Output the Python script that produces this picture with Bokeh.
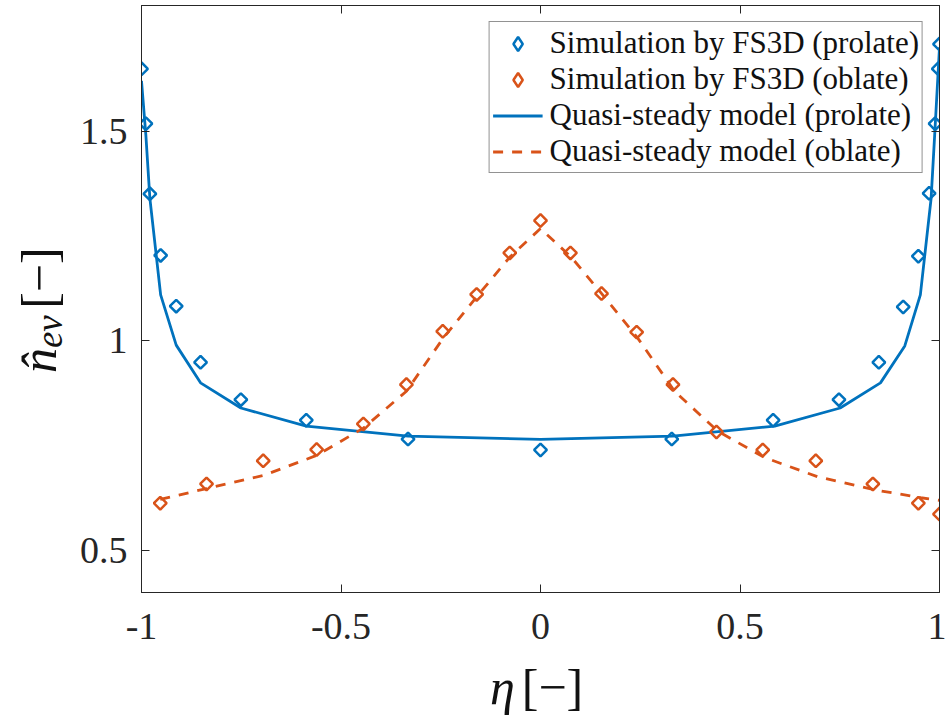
import math
from bokeh.plotting import figure
from bokeh.layouts import column, row
from bokeh.models import Range1d, LinearAxis, FixedTicker, Legend, LegendItem, ColumnDataSource
from bokeh.core.properties import value
from bokeh.embed import file_html
from bokeh.resources import INLINE

# ---------------- data ----------------
x_prolate_sim = [-1.0, -0.989, -0.979, -0.952, -0.913, -0.852, -0.751, -0.587, -0.332, 0.0,
                 0.329, 0.583, 0.748, 0.848, 0.909, 0.947, 0.974, 0.989, 0.997, 1.0]
y_prolate_sim = [1.649, 1.518, 1.351, 1.204, 1.083, 0.949, 0.860, 0.811, 0.766, 0.740,
                 0.766, 0.811, 0.860, 0.949, 1.081, 1.202, 1.352, 1.518, 1.649, 1.708]

x_oblate_sim = [-0.953, -0.837, -0.695, -0.561, -0.444, -0.336, -0.245, -0.160, -0.077, 0.0,
                0.075, 0.153, 0.241, 0.332, 0.441, 0.557, 0.690, 0.833, 0.947, 1.0]
y_oblate_sim = [0.613, 0.659, 0.714, 0.741, 0.802, 0.896, 1.023, 1.111, 1.210, 1.287,
                1.210, 1.113, 1.021, 0.896, 0.783, 0.740, 0.714, 0.659, 0.613, 0.587]

x_prolate_model = [-1.0, -0.989, -0.979, -0.952, -0.913, -0.852, -0.751, -0.587, -0.332, 0.0,
                   0.332, 0.587, 0.751, 0.852, 0.913, 0.952, 0.979, 0.989, 1.0]
y_prolate_model = [1.62, 1.49, 1.34, 1.11, 0.99, 0.90, 0.84, 0.797, 0.773, 0.765,
                   0.773, 0.797, 0.84, 0.90, 0.988, 1.11, 1.34, 1.51, 1.70]

x_oblate_model = [-0.953, -0.837, -0.695, -0.561, -0.444, -0.336, -0.245, -0.160, -0.077, 0.0,
                  0.077, 0.160, 0.245, 0.336, 0.444, 0.561, 0.695, 0.837, 0.953, 1.0]
y_oblate_model = [0.622, 0.648, 0.679, 0.727, 0.792, 0.880, 1.005, 1.105, 1.200, 1.268,
                  1.200, 1.105, 1.005, 0.880, 0.785, 0.722, 0.676, 0.645, 0.626, 0.620]

x_ticks = [-1, -0.5, 0, 0.5, 1]
x_tick_labels = ["-1", "-0.5", "0", "0.5", "1"]
y_ticks = [0.5, 1, 1.5]
y_tick_labels = ["0.5", "1", "1.5"]

legend_labels = ["Simulation by FS3D (prolate)", "Simulation by FS3D (oblate)",
                 "Quasi-steady model (prolate)", "Quasi-steady model (oblate)"]

BLUE = "#0072BD"
ORANGE = "#D95319"
AX = "#262626"
FONT = "Liberation Serif"

W, H = 946, 720
YLAB_W = 70          # strip on the left holding the y-axis title
XLAB_H = 62          # strip at the bottom holding the x-axis title
MAIN_W = W - YLAB_W
MAIN_H = H - XLAB_H

# ---------------- main figure ----------------
p = figure(width=MAIN_W, height=MAIN_H, output_backend="svg", toolbar_location=None,
           x_range=Range1d(-1, 1), y_range=Range1d(0.4, 1.8),
           min_border_left=141 - YLAB_W, min_border_right=7, min_border_top=5,
           min_border_bottom=MAIN_H - 592)
p.grid.visible = False
p.outline_line_color = AX
p.outline_line_width = 1
p.background_fill_color = "white"
p.border_fill_color = "white"


def style_axis(ax, ticks, labels, show_labels=True):
    ax.ticker = FixedTicker(ticks=ticks)
    ax.major_tick_in = 8
    ax.major_tick_out = 0
    ax.minor_tick_line_color = None
    ax.axis_line_color = AX
    ax.axis_line_width = 1
    ax.major_tick_line_color = AX
    ax.major_tick_line_width = 1
    ax.major_label_text_font = FONT
    ax.major_label_text_color = AX
    if show_labels:
        ax.major_label_overrides = {t: l for t, l in zip(ticks, labels)}
        ax.major_label_text_font_size = "38px"
    else:
        ax.major_label_overrides = {t: "" for t in ticks}
        ax.major_label_text_font_size = "0px"
        ax.major_label_standoff = 0


style_axis(p.xaxis[0], x_ticks, x_tick_labels)
p.xaxis[0].major_label_standoff = 21
style_axis(p.yaxis[0], y_ticks, y_tick_labels)
p.yaxis[0].major_label_standoff = 14

top_ax = LinearAxis()
style_axis(top_ax, x_ticks, x_tick_labels, show_labels=False)
p.add_layout(top_ax, "above")
right_ax = LinearAxis()
style_axis(right_ax, y_ticks, y_tick_labels, show_labels=False)
p.add_layout(right_ax, "right")

# ---------------- data glyphs ----------------
src_ps = ColumnDataSource(dict(x=x_prolate_sim, y=y_prolate_sim))
src_os = ColumnDataSource(dict(x=x_oblate_sim, y=y_oblate_sim))
src_pm = ColumnDataSource(dict(x=x_prolate_model, y=y_prolate_model))
src_om = ColumnDataSource(dict(x=x_oblate_model, y=y_oblate_model))

r_pm = p.line("x", "y", source=src_pm, line_color=BLUE, line_width=2.8)
r_om = p.line("x", "y", source=src_om, line_color=ORANGE, line_width=2.8, line_dash="10 9")
p.scatter("x", "y", source=src_ps, marker="square", angle=math.pi / 4, size=9,
          fill_color=None, line_color=BLUE, line_width=2.5)
p.scatter("x", "y", source=src_os, marker="square", angle=math.pi / 4, size=9,
          fill_color=None, line_color=ORANGE, line_width=2.5)

# legend-only diamond renderers (zero size in the plot, drawn only in the legend)
r_ps_leg = p.scatter("x", "y", source=src_ps, marker="diamond", size=0,
                     fill_color=None, line_color=BLUE, line_width=2.5)
r_os_leg = p.scatter("x", "y", source=src_os, marker="diamond", size=0,
                     fill_color=None, line_color=ORANGE, line_width=2.5)

legend = Legend(items=[
    LegendItem(label=legend_labels[0], renderers=[r_ps_leg]),
    LegendItem(label=legend_labels[1], renderers=[r_os_leg]),
    LegendItem(label=legend_labels[2], renderers=[r_pm]),
    LegendItem(label=legend_labels[3], renderers=[r_om]),
])
legend.location = "top_right"
legend.margin = 16
legend.padding = 3
legend.spacing = 0
legend.glyph_width = 50
legend.glyph_height = 35
legend.label_height = 35
legend.label_standoff = 7
legend.label_text_font = FONT
legend.label_text_font_size = "31px"
legend.label_text_color = "#111111"
legend.border_line_color = AX
legend.border_line_width = 1
legend.background_fill_color = "white"
legend.background_fill_alpha = 1
p.add_layout(legend)


# ---------------- axis titles (text strips) ----------------
def strip(width, height):
    f = figure(width=width, height=height, output_backend="svg", toolbar_location=None,
               x_range=Range1d(0, width), y_range=Range1d(0, height),
               x_axis_location=None, y_axis_location=None, min_border=0)
    f.grid.visible = False
    f.outline_line_color = None
    f.background_fill_color = "white"
    f.border_fill_color = "white"
    return f


def title_text(f, px, py, txt, size, style="normal", angle=0.0, align="center", baseline="middle"):
    # (px, py) in the strip's own pixels, y downwards
    f.text(x=[px], y=[f.height - py], text=[txt], angle=angle, text_font=value(FONT),
           text_font_size=value(size), text_font_style=style, text_color="#111111",
           text_align=align, text_baseline=baseline)


# y title: n-hat_ev [-], rotated (anchors calibrated against the rendered output)
ylab = strip(YLAB_W, MAIN_H)
title_text(ylab, 10.5, 412, "n\u0302", "50px", "italic", math.pi / 2, "left", "top")
title_text(ylab, 28, 384, "ev", "37px", "italic", math.pi / 2, "left", "top")
title_text(ylab, 10.5, 340, "[\u2212]", "50px", "normal", math.pi / 2, "left", "top")

# x title: eta [-]  (strip starts at page y = MAIN_H)
xlab = strip(W, XLAB_H)
title_text(xlab, 502, 686 - MAIN_H, "\u03b7", "50px", "italic")
title_text(xlab, 552, 686 - MAIN_H, "[\u2212]", "50px", "normal")

layout = column(row(ylab, p, spacing=0), xlab, spacing=0)

open("out.html", "w").write(file_html(layout, INLINE))
